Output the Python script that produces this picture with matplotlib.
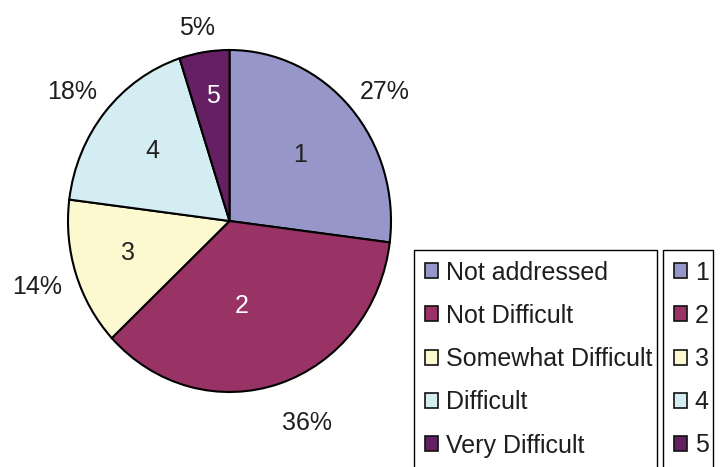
import numpy as np
import matplotlib
matplotlib.use("Agg")
import matplotlib.pyplot as plt
from matplotlib.patches import Rectangle

# Survey answers: how difficult each item was to address
categories = ["Not addressed", "Not Difficult", "Somewhat Difficult", "Difficult", "Very Difficult"]
codes = ["1", "2", "3", "4", "5"]
shares = [27, 36, 14, 18, 5]
colors = ["#9696C8", "#993366", "#FCF8D0", "#D3EDF3", "#652064"]
code_colors = ["#222222", "white", "#222222", "#222222", "white"]

# label placement: radius (fraction of pie radius) and angular nudge from the wedge centre
inner_r = [0.59, 0.49, 0.65, 0.64, 0.75]
inner_nudge = [1.0, -9.0, -2.4, -2.1, -1.0]
outer_r = [1.23, 1.26, 1.25, 1.24, 1.16]
outer_nudge = [-2.6, 4.3, -0.6, 1.4, 0.9]

plt.rcParams["font.family"] = ["Liberation Sans", "DejaVu Sans"]
FS = 18
TXT = "#1e1e1e"

W, H = 723, 467
fig = plt.figure(figsize=(W / 100, H / 100), dpi=100)

# pie axes spans the (slightly elliptical) pie's bounding box
L, R, T, B = 68, 391, 50, 392
ax = fig.add_axes([L / W, 1 - B / H, (R - L) / W, (B - T) / H])
wedges, _ = ax.pie(shares, colors=colors, startangle=90, counterclock=False,
                   radius=1.0, wedgeprops=dict(edgecolor="black", linewidth=1.5))
ax.set_aspect("auto")
ax.set_xlim(-1, 1)
ax.set_ylim(-1, 1)
ax.axis("off")

total = float(sum(shares))
start = 90.0
for i, v in enumerate(shares):
    sweep = 360.0 * v / total
    mid = start - sweep / 2
    start -= sweep
    a_in = np.deg2rad(mid + inner_nudge[i])
    a_out = np.deg2rad(mid + outer_nudge[i])
    ax.text(inner_r[i] * np.cos(a_in), inner_r[i] * np.sin(a_in), codes[i],
            ha="center", va="center_baseline", fontsize=FS, color=code_colors[i])
    ax.text(outer_r[i] * np.cos(a_out), outer_r[i] * np.sin(a_out), f"{v}%",
            ha="center", va="center_baseline", fontsize=FS, color=TXT, clip_on=False)


def handles():
    return [Rectangle((0, 0), 1, 1, facecolor=c, edgecolor="#111111", linewidth=1.2)
            for c in colors]


common = dict(loc="upper left", mode="expand", fontsize=FS, fancybox=False,
              framealpha=1, edgecolor="black", handlelength=0.55, handleheight=0.55,
              handletextpad=0.3, labelspacing=0.77, borderpad=0.42,
              borderaxespad=0, labelcolor=TXT)

top = 1 - 250 / H
leg1 = fig.legend(handles(), categories,
                  bbox_to_anchor=(414 / W, 0, 243 / W, top), **common)
leg1.get_frame().set_linewidth(1.0)
leg2 = fig.legend(handles(), codes,
                  bbox_to_anchor=(663 / W, 0, 50 / W, top), **common)
leg2.get_frame().set_linewidth(1.0)

fig.savefig("out.png", dpi=100)
